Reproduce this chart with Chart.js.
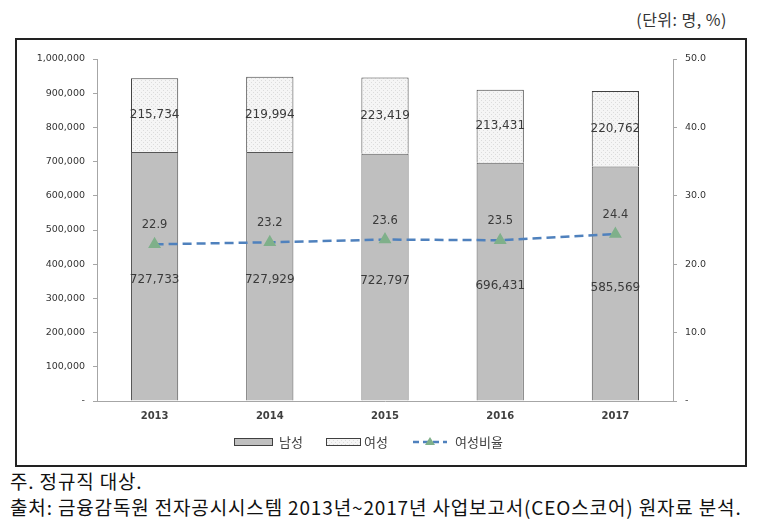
<!DOCTYPE html>
<html>
<head>
<meta charset="utf-8">
<script src="https://cdn.jsdelivr.net/npm/chart.js@4/dist/chart.umd.min.js"></script>
<style>
  body { margin: 0; background: #fff; width: 759px; height: 530px; position: relative; overflow: hidden; }
  #unit { position: absolute; right: 32px; top: 7px; font: 16px "Noto Sans CJK KR", sans-serif; color: #333; letter-spacing: 0.5px; }
  #frame { position: absolute; left: 15px; top: 38px; width: 728px; height: 425px; border: 2px solid #222; }
  #ctx_chart { position: absolute; left: 2px; top: 2px; }
  .note { position: absolute; left: 10px; font: 19px "Noto Sans CJK KR", serif; color: #111; white-space: nowrap; letter-spacing: 0.85px; }
</style>
</head>
<body>
<div id="unit">(단위: 명, %)</div>
<div id="frame"><canvas id="ctx_chart" width="724" height="421"></canvas></div>
<div class="note" style="top:467px">주. 정규직 대상.</div>
<div class="note" style="top:493px">출처: 금융감독원 전자공시시스템 2013년~2017년 사업보고서(CEO스코어) 원자료 분석.</div>
<script>
const years = ['2013', '2014', '2015', '2016', '2017'];
const male = [727733, 727929, 722797, 696431, 685569];
const maleText = ['727,733', '727,929', '722,797', '696,431', '585,569'];
const female = [215734, 219994, 223419, 213431, 220762];
const femaleRatio = [22.9, 23.2, 23.6, 23.5, 24.4];
const leftTicks = [0, 100000, 200000, 300000, 400000, 500000, 600000, 700000, 800000, 900000, 1000000];
const rightTicks = [0, 10, 20, 30, 40, 50];

const ctx_chart = document.getElementById('ctx_chart');

// dotted light fill like the excel pattern
const pat = document.createElement('canvas');
pat.width = 4; pat.height = 4;
const pc = pat.getContext('2d');
pc.fillStyle = '#f5f5f5';
pc.fillRect(0, 0, 4, 4);
pc.fillStyle = '#dcdcdc';
pc.fillRect(0, 0, 1, 1);
pc.fillRect(2, 2, 1, 1);
const femaleFill = pc.createPattern(pat, 'repeat');

const valueLabels = {
    id: 'valueLabels',
    afterDatasetsDraw(chart) {
        const c = chart.ctx;
        c.save();
        c.fillStyle = '#3a3a3a';
        c.textAlign = 'center';
        c.textBaseline = 'middle';
        c.font = '12px "DejaVu Sans"';
        chart.getDatasetMeta(0).data.forEach((el, i) => {
            c.fillText(maleText[i], el.x, (el.y + el.base) / 2 + 4);
        });
        chart.getDatasetMeta(1).data.forEach((el, i) => {
            c.fillText(female[i].toLocaleString('en-US'), el.x, (el.y + el.base) / 2);
        });
        c.font = '11.5px "DejaVu Sans"';
        chart.getDatasetMeta(2).data.forEach((el, i) => {
            c.fillText(femaleRatio[i].toFixed(1), el.x, el.y - 19);
        });
        c.restore();
    }
};

const customLegend = {
    id: 'customLegend',
    afterDraw(chart) {
        const c = chart.ctx;
        const a = chart.chartArea;
        const y = a.bottom + 41;
        c.save();
        c.lineWidth = 1;
        c.strokeStyle = '#404040';
        c.fillStyle = '#bfbfbf';
        c.fillRect(a.left + 137, y - 4, 38, 7);
        c.strokeRect(a.left + 137.5, y - 3.5, 38, 7);
        c.fillStyle = femaleFill;
        c.fillRect(a.left + 229, y - 4, 34, 7);
        c.strokeRect(a.left + 229.5, y - 3.5, 34, 7);
        c.strokeStyle = '#4f81bd';
        c.lineWidth = 2.5;
        c.setLineDash([6, 4]);
        c.beginPath();
        c.moveTo(a.left + 316, y);
        c.lineTo(a.left + 350, y);
        c.stroke();
        c.setLineDash([]);
        c.fillStyle = '#7fb08a';
        c.beginPath();
        c.moveTo(a.left + 333, y - 5);
        c.lineTo(a.left + 338, y + 3);
        c.lineTo(a.left + 328, y + 3);
        c.closePath();
        c.fill();
        c.fillStyle = '#404040';
        c.font = '13px "Noto Sans CJK KR"';
        c.textBaseline = 'middle';
        c.fillText('남성', a.left + 182, y);
        c.fillText('여성', a.left + 267, y);
        c.fillText('여성비율', a.left + 358, y);
        c.restore();
    }
};

new Chart(ctx_chart, {
    type: 'bar',
    data: {
        labels: years,
        datasets: [{
            label: '남성',
            data: male,
            backgroundColor: '#bfbfbf',
            borderColor: '#555555',
            borderWidth: 1,
            stack: 's',
            yAxisID: 'y',
            order: 2
        },
        {
            label: '여성',
            data: female,
            backgroundColor: femaleFill,
            borderColor: '#404040',
            borderWidth: 1,
            stack: 's',
            yAxisID: 'y',
            order: 2
        },
        {
            type: 'line',
            label: '여성비율',
            data: femaleRatio,
            yAxisID: 'y2',
            borderColor: '#4f81bd',
            borderWidth: 2.5,
            borderDash: [9, 5],
            tension: 0,
            pointStyle: 'triangle',
            pointRadius: 5,
            pointBackgroundColor: '#7fb08a',
            pointBorderColor: '#7fb08a',
            order: 1
        }]
    },
    options: {
        responsive: false,
        animation: false,
        devicePixelRatio: 1,
        layout: { padding: { top: 17, left: 0, right: 0, bottom: 0 } },
        datasets: {
            bar: { categoryPercentage: 1, barPercentage: 0.41 }
        },
        scales: {
            x: {
                stacked: true,
                grid: { display: false, drawTicks: false },
                border: { color: '#a6a6a6', width: 1 },
                ticks: {
                    color: '#404040',
                    font: { family: 'DejaVu Sans', size: 10, weight: 'bold' },
                    padding: 9
                },
                afterFit(scale) { scale.height = 62; }
            },
            y: {
                stacked: true,
                position: 'left',
                min: 0,
                max: 1000000,
                afterBuildTicks(scale) { scale.ticks = leftTicks.map(v => ({ value: v })); },
                grid: { drawOnChartArea: false, color: '#a6a6a6', tickLength: 4 },
                border: { color: '#a6a6a6', width: 1 },
                ticks: {
                    color: '#333333',
                    font: { family: 'DejaVu Sans', size: 9.5 },
                    padding: 8,
                    callback: v => v === 0 ? '-' : v.toLocaleString('en-US')
                },
                afterFit(scale) { scale.width = 78; }
            },
            y2: {
                position: 'right',
                min: 0,
                max: 50,
                afterBuildTicks(scale) { scale.ticks = rightTicks.map(v => ({ value: v })); },
                grid: { drawOnChartArea: false, color: '#a6a6a6', tickLength: 4 },
                border: { color: '#a6a6a6', width: 1 },
                ticks: {
                    color: '#333333',
                    font: { family: 'DejaVu Sans', size: 9.5 },
                    padding: 8,
                    callback: v => v === 0 ? '-' : v.toFixed(1)
                },
                afterFit(scale) { scale.width = 70; }
            }
        },
        plugins: {
            legend: { display: false },
            tooltip: { enabled: false }
        }
    },
    plugins: [valueLabels, customLegend]
});
</script>
</body>
</html>
